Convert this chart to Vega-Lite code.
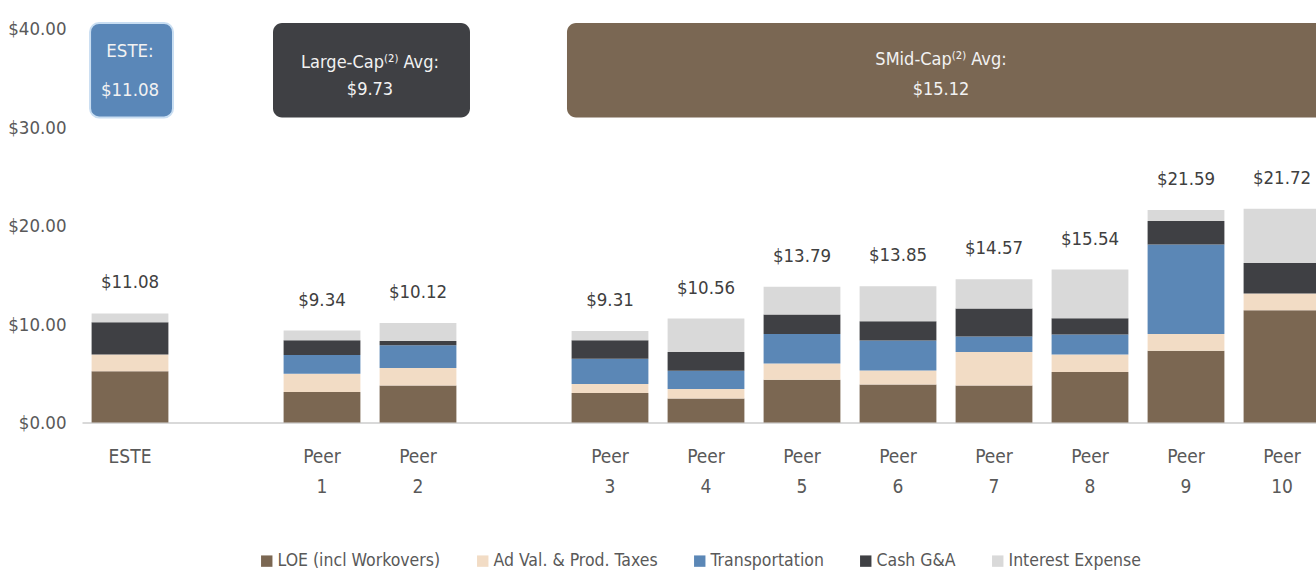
{
  "$schema": "https://vega.github.io/schema/vega-lite/v6.json",
  "width": 1234,
  "height": 399.5,
  "autosize": {"type": "none"},
  "padding": {"left": 82, "top": 23, "right": 0, "bottom": 153.5},
  "config": {
    "view": {"stroke": null},
    "font": "'DejaVu Sans Condensed', 'Roboto Condensed', 'Liberation Sans Narrow', Roboto, sans-serif",
    "legend": {"layout": {"bottom": {"anchor": "middle"}}}
  },
  "datasets": {
    "costs": [
      {"company": "ESTE", "cost": "LOE (incl Workovers)", "value": 5.2, "ord": 1},
      {"company": "ESTE", "cost": "Ad Val. & Prod. Taxes", "value": 1.7, "ord": 2},
      {"company": "ESTE", "cost": "Transportation", "value": 0, "ord": 3},
      {"company": "ESTE", "cost": "Cash G&A", "value": 3.3, "ord": 4},
      {"company": "ESTE", "cost": "Interest Expense", "value": 0.88, "ord": 5},
      {"company": "Peer 1", "cost": "LOE (incl Workovers)", "value": 3.1, "ord": 1},
      {"company": "Peer 1", "cost": "Ad Val. & Prod. Taxes", "value": 1.85, "ord": 2},
      {"company": "Peer 1", "cost": "Transportation", "value": 1.9, "ord": 3},
      {"company": "Peer 1", "cost": "Cash G&A", "value": 1.5, "ord": 4},
      {"company": "Peer 1", "cost": "Interest Expense", "value": 0.99, "ord": 5},
      {"company": "Peer 2", "cost": "LOE (incl Workovers)", "value": 3.75, "ord": 1},
      {"company": "Peer 2", "cost": "Ad Val. & Prod. Taxes", "value": 1.8, "ord": 2},
      {"company": "Peer 2", "cost": "Transportation", "value": 2.3, "ord": 3},
      {"company": "Peer 2", "cost": "Cash G&A", "value": 0.42, "ord": 4},
      {"company": "Peer 2", "cost": "Interest Expense", "value": 1.85, "ord": 5},
      {"company": "Peer 3", "cost": "LOE (incl Workovers)", "value": 3.0, "ord": 1},
      {"company": "Peer 3", "cost": "Ad Val. & Prod. Taxes", "value": 0.9, "ord": 2},
      {"company": "Peer 3", "cost": "Transportation", "value": 2.57, "ord": 3},
      {"company": "Peer 3", "cost": "Cash G&A", "value": 1.9, "ord": 4},
      {"company": "Peer 3", "cost": "Interest Expense", "value": 0.94, "ord": 5},
      {"company": "Peer 4", "cost": "LOE (incl Workovers)", "value": 2.45, "ord": 1},
      {"company": "Peer 4", "cost": "Ad Val. & Prod. Taxes", "value": 0.95, "ord": 2},
      {"company": "Peer 4", "cost": "Transportation", "value": 1.85, "ord": 3},
      {"company": "Peer 4", "cost": "Cash G&A", "value": 1.92, "ord": 4},
      {"company": "Peer 4", "cost": "Interest Expense", "value": 3.39, "ord": 5},
      {"company": "Peer 5", "cost": "LOE (incl Workovers)", "value": 4.35, "ord": 1},
      {"company": "Peer 5", "cost": "Ad Val. & Prod. Taxes", "value": 1.65, "ord": 2},
      {"company": "Peer 5", "cost": "Transportation", "value": 3.0, "ord": 3},
      {"company": "Peer 5", "cost": "Cash G&A", "value": 1.97, "ord": 4},
      {"company": "Peer 5", "cost": "Interest Expense", "value": 2.82, "ord": 5},
      {"company": "Peer 6", "cost": "LOE (incl Workovers)", "value": 3.85, "ord": 1},
      {"company": "Peer 6", "cost": "Ad Val. & Prod. Taxes", "value": 1.43, "ord": 2},
      {"company": "Peer 6", "cost": "Transportation", "value": 3.06, "ord": 3},
      {"company": "Peer 6", "cost": "Cash G&A", "value": 1.94, "ord": 4},
      {"company": "Peer 6", "cost": "Interest Expense", "value": 3.57, "ord": 5},
      {"company": "Peer 7", "cost": "LOE (incl Workovers)", "value": 3.75, "ord": 1},
      {"company": "Peer 7", "cost": "Ad Val. & Prod. Taxes", "value": 3.42, "ord": 2},
      {"company": "Peer 7", "cost": "Transportation", "value": 1.57, "ord": 3},
      {"company": "Peer 7", "cost": "Cash G&A", "value": 2.85, "ord": 4},
      {"company": "Peer 7", "cost": "Interest Expense", "value": 2.98, "ord": 5},
      {"company": "Peer 8", "cost": "LOE (incl Workovers)", "value": 5.12, "ord": 1},
      {"company": "Peer 8", "cost": "Ad Val. & Prod. Taxes", "value": 1.78, "ord": 2},
      {"company": "Peer 8", "cost": "Transportation", "value": 2.05, "ord": 3},
      {"company": "Peer 8", "cost": "Cash G&A", "value": 1.64, "ord": 4},
      {"company": "Peer 8", "cost": "Interest Expense", "value": 4.95, "ord": 5},
      {"company": "Peer 9", "cost": "LOE (incl Workovers)", "value": 7.3, "ord": 1},
      {"company": "Peer 9", "cost": "Ad Val. & Prod. Taxes", "value": 1.7, "ord": 2},
      {"company": "Peer 9", "cost": "Transportation", "value": 9.1, "ord": 3},
      {"company": "Peer 9", "cost": "Cash G&A", "value": 2.39, "ord": 4},
      {"company": "Peer 9", "cost": "Interest Expense", "value": 1.1, "ord": 5},
      {"company": "Peer 10", "cost": "LOE (incl Workovers)", "value": 11.4, "ord": 1},
      {"company": "Peer 10", "cost": "Ad Val. & Prod. Taxes", "value": 1.7, "ord": 2},
      {"company": "Peer 10", "cost": "Transportation", "value": 0, "ord": 3},
      {"company": "Peer 10", "cost": "Cash G&A", "value": 3.12, "ord": 4},
      {"company": "Peer 10", "cost": "Interest Expense", "value": 5.5, "ord": 5}
    ],
    "totals": [
      {"company": "ESTE", "total": 11.08},
      {"company": "Peer 1", "total": 9.34},
      {"company": "Peer 2", "total": 10.12},
      {"company": "Peer 3", "total": 9.31},
      {"company": "Peer 4", "total": 10.56},
      {"company": "Peer 5", "total": 13.79},
      {"company": "Peer 6", "total": 13.85},
      {"company": "Peer 7", "total": 14.57},
      {"company": "Peer 8", "total": 15.54},
      {"company": "Peer 9", "total": 21.59},
      {"company": "Peer 10", "total": 21.72}
    ]
  },
  "layer": [
    {
      "data": {"name": "costs"},
      "mark": {"type": "bar"},
      "encoding": {
        "x": {
          "field": "company", "type": "nominal",
          "scale": {"domain": ["ESTE", "gap1", "Peer 1", "Peer 2", "gap2", "Peer 3", "Peer 4", "Peer 5", "Peer 6", "Peer 7", "Peer 8", "Peer 9", "Peer 10"], "range": [0, 1248], "paddingInner": 0.2, "paddingOuter": 0.1},
          "axis": {"title": null, "labelAngle": 0, "ticks": false, "domainColor": "#d9d9d9", "domainWidth": 2, "labelFontSize": 19, "labelColor": "#595959", "labelPadding": 25, "labelLineHeight": 30, "labelBaseline": "top", "labelExpr": "indexof(datum.value, 'gap') == 0 ? '' : split(datum.value, ' ')"}
        },
        "y": {
          "field": "value", "type": "quantitative", "stack": "zero",
          "scale": {"domain": [0, 40.6], "nice": false},
          "axis": {"title": null, "values": [0, 10, 20, 30, 40], "format": "$.2f", "domain": false, "ticks": false, "grid": false, "labelFontSize": 18.5, "labelColor": "#595959", "labelPadding": 16}
        },
        "color": {
          "field": "cost", "type": "nominal",
          "scale": {"domain": ["LOE (incl Workovers)", "Ad Val. & Prod. Taxes", "Transportation", "Cash G&A", "Interest Expense"], "range": ["#7b6752", "#f2dcc5", "#5b87b6", "#3f4044", "#d9d9d9"]},
          "legend": {"title": null, "orient": "bottom", "direction": "horizontal", "symbolType": "square", "symbolSize": 130, "symbolStrokeWidth": 0, "labelFontSize": 17.5, "labelColor": "#595959", "labelOffset": 2, "labelLimit": 500, "columnPadding": 33, "offset": 55}
        },
        "order": {"field": "ord", "type": "quantitative"}
      }
    },
    {
      "data": {"name": "totals"},
      "mark": {"type": "text", "fontSize": 18.5, "color": "#404040", "baseline": "middle", "dy": -31},
      "encoding": {
        "x": {"field": "company", "type": "nominal"},
        "y": {"field": "total", "type": "quantitative"},
        "text": {"field": "total", "type": "quantitative", "format": "$.2f"}
      }
    },
    {
      "data": {"values": [{"company": "ESTE", "end": "ESTE"}]},
      "mark": {"type": "rect", "color": "#5a87b8", "cornerRadius": 9, "stroke": "#c9def2", "strokeWidth": 2},
      "encoding": {
        "x": {"field": "company", "type": "nominal", "bandPosition": -0.02},
        "x2": {"field": "end", "bandPosition": 1.06},
        "y": {"datum": 31},
        "y2": {"datum": 40.6}
      }
    },
    {
      "data": {"values": [{"company": "Peer 1", "end": "Peer 2"}]},
      "mark": {"type": "rect", "color": "#3f4044", "cornerRadius": 9},
      "encoding": {
        "x": {"field": "company", "type": "nominal", "bandPosition": -0.138},
        "x2": {"field": "end", "bandPosition": 1.177},
        "y": {"datum": 31},
        "y2": {"datum": 40.6}
      }
    },
    {
      "data": {"values": [{"company": "Peer 3", "end": "Peer 10"}]},
      "mark": {"type": "rect", "color": "#7a6753", "cornerRadius": 9},
      "encoding": {
        "x": {"field": "company", "type": "nominal", "bandPosition": -0.06},
        "x2": {"field": "end", "bandPosition": 2},
        "y": {"datum": 31},
        "y2": {"datum": 40.6}
      }
    },
    {
      "data": {"values": [{"company": "ESTE", "line": "ESTE:", "pos": 37.8}, {"company": "ESTE", "line": "$11.08", "pos": 33.75}]},
      "mark": {"type": "text", "fontSize": 18.5, "color": "#f2f2f2", "baseline": "middle"},
      "encoding": {
        "x": {"field": "company", "type": "nominal", "bandPosition": 0.5},
        "y": {"field": "pos", "type": "quantitative"},
        "text": {"field": "line"}
      }
    },
    {
      "data": {"values": [{"company": "Peer 1", "line": "Large-Cap⁽²⁾ Avg:", "pos": 36.5}, {"company": "Peer 1", "line": "$9.73", "pos": 33.75}]},
      "mark": {"type": "text", "fontSize": 18, "color": "#f2f2f2", "baseline": "middle"},
      "encoding": {
        "x": {"field": "company", "type": "nominal", "bandPosition": 1.125},
        "y": {"field": "pos", "type": "quantitative"},
        "text": {"field": "line"}
      }
    },
    {
      "data": {"values": [{"company": "Peer 6", "line": "SMid-Cap⁽²⁾ Avg:", "pos": 36.8}, {"company": "Peer 6", "line": "$15.12", "pos": 33.75}]},
      "mark": {"type": "text", "fontSize": 18, "color": "#f2f2f2", "baseline": "middle"},
      "encoding": {
        "x": {"field": "company", "type": "nominal", "bandPosition": 1.06},
        "y": {"field": "pos", "type": "quantitative"},
        "text": {"field": "line"}
      }
    }
  ]
}
